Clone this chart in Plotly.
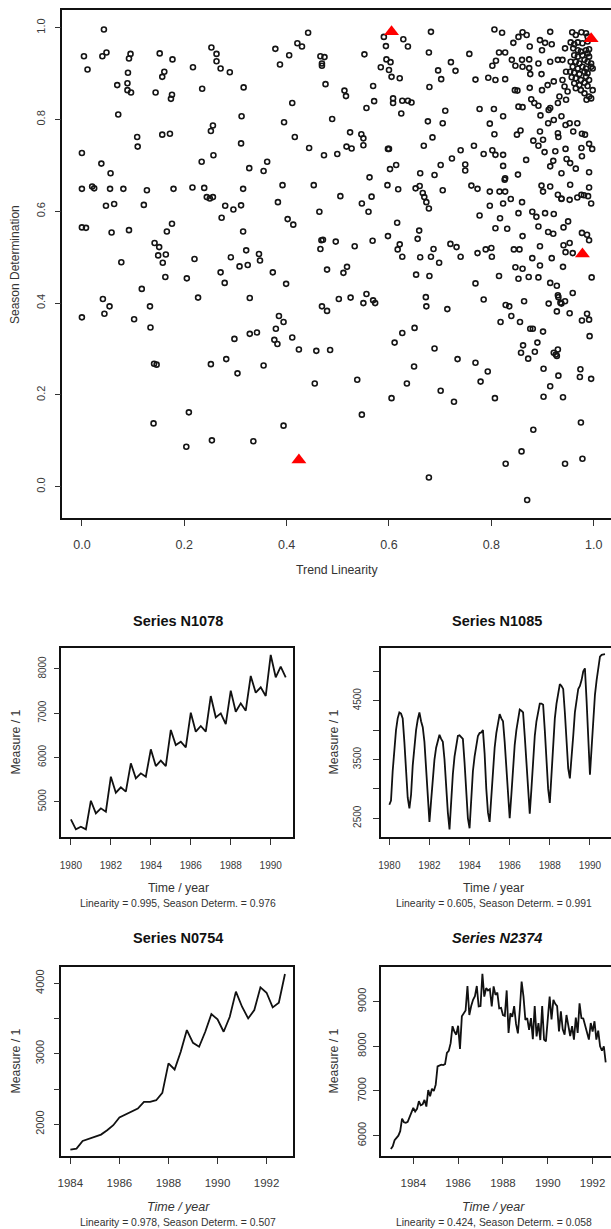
import numpy as np
import plotly.graph_objects as go

W, H = 611, 1229
FONT = "Liberation Sans, Arial, Helvetica, sans-serif"

# ---------------- scatter data ----------------
trend_linearity = [
 .043,.442,.590,.682,.806,.821,.861,.869,.853,.843,
 .915,.628,.637,.594,.253,.378,.421,.430,.875,.895,
 .905,.918,.899,.944,.004,.040,.048,.095,.092,.152,
 .177,.263,.263,.405,.466,.474,.552,.678,.757,.815,
 .827,.840,.860,.874,.892,.011,.090,.161,.157,.217,
 .271,.289,.387,.469,.469,.584,.595,.603,.600,.605,
 .621,.696,.721,.730,.702,.769,.794,.808,.827,.802,
 .809,.847,.861,.874,.876,.898,.915,.930,.069,.089,
 .089,.096,.144,.176,.174,.235,.316,.476,.513,.516,
 .569,.679,.846,.851,.875,.899,.910,.922,.608,.608,
 .626,.637,.644,.571,.556,.411,.710,.777,.805,.853,
 .861,.878,.884,.892,.915,.930,.071,.312,.489,.624,
 .676,.705,.797,.823,.896,.912,.922,.937,.945,.953,
 .968,.108,.157,.172,.252,.256,.395,.416,.524,.546,
 .550,.685,.806,.850,.857,.882,.895,.901,.911,.930,
 .931,.960,.977,.983,.000,.109,.311,.257,.444,.473,
 .499,.517,.527,.550,.598,.600,.668,.723,.740,.766,
 .785,.802,.808,.823,.892,.904,.925,.945,.976,.991,
 .997,.038,.056,.234,.327,.355,.362,.602,.614,.661,
 .689,.701,.749,.749,.823,.827,.852,.868,.915,.921,
 .937,.947,.954,.965,.977,.991,.000,.020,.024,.055,
 .081,.127,.179,.216,.239,.244,.250,.256,.315,.392,
 .453,.505,.562,.597,.618,.652,.660,.666,.669,.673,
 .678,.705,.761,.773,.797,.816,.826,.827,.860,.898,
 .901,.915,.930,.937,.954,.968,.981,.991,.989,.047,
 .063,.121,.280,.296,.311,.383,.464,.547,.560,.566,
 .797,.823,.838,.853,.880,.888,.905,.922,.937,.953,
 .976,.995,.000,.008,.058,.092,.176,.166,.273,.315,
 .402,.413,.616,.659,.777,.817,.808,.831,.892,.911,
 .921,.941,.950,.861,.142,.151,.149,.164,.077,.158,
 .220,.291,.321,.346,.348,.308,.324,.468,.471,.466,
 .496,.533,.568,.598,.621,.617,.626,.656,.661,.682,
 .687,.698,.720,.732,.740,.773,.789,.800,.801,.844,
 .855,.880,.895,.918,.941,.945,.953,.959,.977,.987,
 .991,.117,.163,.205,.271,.279,.373,.399,.479,.511,
 .518,.653,.679,.769,.815,.847,.861,.853,.873,.892,
 .895,.915,.928,.940,.996,.959,.930,.556,.502,.525,
 .672,.785,.227,.328,.041,
 .000,.044,.054,.102,.133,.134,.141,.146,.140,.209,
 .204,.252,.254,.282,.298,.304,.328,.342,.335,.355,
 .376,.379,.382,.385,.394,.394,.411,.424,.458,.455,
 .469,.479,.485,.538,.547,.550,.569,.573,.605,.611,
 .626,.635,.649,.650,.673,.678,.689,.701,.714,.727,
 .734,.769,.779,.793,.807,.818,.828,.828,.835,.839,
 .856,.858,.862,.864,.870,.872,.876,.881,.882,.859,
 .885,.890,.901,.902,.902,.912,.915,.922,.926,.928,
 .928,.930,.931,.931,.935,.937,.940,.944,.944,.953,
 .973,.974,.975,.977,.978,.987,.991,.992,.995,
 .958,.965,.976,.985,.988,.955,.962,.969,.978,.988,
 .960,.969,.975,.985,.991,.962,.969,.978,.988,.991,
 .955,.965,.972,.982,.988,.995,.959,.969,.978,.985,
 .995,.954,.962,.972,.982,.988,.998,.957,.965,.975,
 .985,.991,.962,.972,.982,.988,.998,.965,.975,.982,
 .991,.995,.986,.939,.946,.939,.943,.949,.946,.933,
]
season_determination = [
 .996,.989,.980,.991,.996,.989,.990,.984,.980,.967,
 .991,.975,.959,.960,.957,.954,.966,.959,.959,.973,
 .967,.964,.951,.955,.938,.938,.946,.943,.933,.944,
 .931,.943,.927,.940,.938,.936,.942,.946,.943,.946,
 .946,.930,.930,.931,.922,.909,.902,.904,.893,.914,
 .911,.903,.920,.922,.917,.914,.931,.925,.908,.893,
 .890,.907,.925,.906,.888,.887,.891,.886,.888,.917,
 .928,.917,.915,.912,.899,.899,.926,.930,.875,.879,
 .864,.859,.859,.854,.845,.867,.870,.877,.863,.851,
 .873,.871,.864,.863,.869,.864,.875,.883,.846,.836,
 .841,.841,.837,.840,.825,.836,.819,.823,.823,.828,
 .827,.844,.836,.830,.825,.836,.811,.807,.801,.813,
 .796,.792,.791,.807,.809,.821,.799,.807,.788,.792,
 .792,.762,.767,.769,.775,.787,.794,.762,.772,.768,
 .759,.761,.768,.767,.776,.754,.774,.756,.792,.770,
 .762,.774,.769,.767,.727,.741,.748,.722,.738,.722,
 .725,.741,.737,.744,.736,.736,.743,.715,.733,.743,
 .725,.733,.723,.723,.743,.729,.731,.736,.738,.747,
 .736,.704,.683,.708,.694,.688,.708,.692,.701,.683,
 .679,.701,.702,.689,.699,.672,.680,.712,.698,.710,
 .683,.714,.705,.693,.720,.685,.649,.654,.650,.649,
 .649,.646,.649,.652,.651,.631,.628,.631,.649,.657,
 .657,.633,.674,.657,.648,.650,.655,.640,.631,.620,
 .606,.646,.656,.649,.643,.643,.669,.643,.620,.656,
 .643,.654,.636,.628,.658,.630,.635,.652,.633,.612,
 .616,.614,.612,.604,.613,.620,.599,.617,.599,.632,
 .612,.617,.627,.596,.599,.588,.596,.594,.627,.625,
 .636,.617,.565,.564,.554,.559,.573,.556,.586,.556,
 .583,.571,.575,.558,.591,.585,.563,.562,.567,.555,
 .551,.565,.578,.546,.531,.522,.504,.506,.489,.488,
 .496,.500,.515,.507,.493,.480,.483,.537,.538,.518,
 .534,.524,.536,.546,.528,.517,.501,.540,.500,.501,
 .518,.488,.529,.522,.501,.509,.517,.520,.501,.517,
 .517,.498,.524,.498,.526,.511,.531,.509,.553,.549,
 .537,.431,.457,.454,.467,.444,.467,.442,.473,.466,
 .479,.462,.459,.443,.459,.478,.475,.453,.457,.456,
 .482,.444,.438,.479,.456,.422,.417,.420,.409,.412,
 .413,.408,.412,.411,.409,
 .369,.377,.393,.365,.393,.347,.268,.266,.138,.162,
 .087,.267,.101,.278,.322,.247,.333,.336,.099,.264,
 .320,.344,.311,.372,.359,.133,.325,.299,.296,.225,
 .393,.383,.298,.233,.157,.400,.406,.400,.193,.314,
 .335,.225,.262,.346,.393,.020,.301,.209,.387,.185,
 .278,.270,.229,.251,.193,.359,.050,.396,.393,.372,
 .359,.292,.308,.404,-.029,.279,.344,.344,.124,.077,
 .294,.314,.338,.257,.196,.399,.219,.292,.288,.382,
 .285,.299,.413,.242,.401,.399,.195,.050,.404,.378,
 .239,.256,.140,.362,.061,.377,.364,.328,.235,
 .990,.984,.990,.988,.981,.968,.964,.968,.966,.970,
 .955,.951,.948,.951,.953,.940,.937,.940,.944,.937,
 .926,.926,.922,.930,.926,.922,.915,.911,.915,.911,
 .915,.904,.902,.899,.904,.901,.911,.892,.890,.886,
 .893,.886,.879,.875,.880,.873,.864,.868,.864,.857,
 .850,.846,.843,.930,.904,.886,.872,.861,.843,.850,
]
assert len(trend_linearity) == len(season_determination)

highlight_series = ["N1078", "N1085", "N0754", "N2374"]
highlight_linearity = [0.995, 0.605, 0.978, 0.424]
highlight_season = [0.976, 0.991, 0.507, 0.058]

# ---------------- time series data ----------------
n1078_start, n1078_freq = 1980.0, 4
n1078 = [4600, 4374, 4434, 4374, 5022, 4736, 4849, 4774,
         5565, 5203, 5324, 5226, 5867, 5527, 5641, 5565,
         6183, 5806, 5927, 5806, 6621, 6281, 6357, 6229,
         7012, 6583, 6711, 6583, 7389, 6907, 6997, 6756,
         7510, 7035, 7224, 7058, 7842, 7465, 7585, 7389,
         8317, 7812, 8053, 7812]

n1085_start, n1085_freq = 1980.0, 12
n1085 = [2730, 2800, 3300, 3700, 4000, 4200, 4300, 4280, 4200, 3800, 3300, 2850,
         2670, 2900, 3400, 3750, 4000, 4180, 4300, 4150, 4050, 3800, 3300, 2800,
         2440, 2800, 3200, 3500, 3700, 3800, 3920, 3850, 3800, 3500, 3000, 2600,
         2310, 2800, 3250, 3550, 3750, 3900, 3910, 3880, 3850, 3450, 2950, 2500,
         2330, 2800, 3300, 3550, 3750, 3900, 3950, 3960, 4000, 3600, 3000, 2600,
         2440, 2850, 3350, 3700, 3950, 4150, 4270, 4200, 4150, 3800, 3300, 2850,
         2500, 2900, 3400, 3750, 4000, 4200, 4350, 4330, 4300, 3900, 3400, 2900,
         2580, 3000, 3500, 3900, 4150, 4300, 4450, 4450, 4430, 4000, 3500, 3000,
         2760, 3300, 3800, 4200, 4450, 4650, 4780, 4750, 4700, 4300, 3800, 3350,
         3180, 3500, 3900, 4300, 4550, 4700, 4750, 4850, 5000, 5050, 4500, 3800,
         3240, 3700, 4200, 4600, 4850, 5100, 5250, 5280, 5290, 5290]

n0754_start, n0754_freq = 1984.0, 4
n0754 = [1640, 1654, 1763, 1796, 1820, 1853, 1915, 1986,
         2095, 2138, 2171, 2223, 2318, 2318, 2341, 2446,
         2863, 2777, 3028, 3337, 3156, 3100, 3313, 3564,
         3488, 3313, 3526, 3882, 3668, 3502, 3621, 3943,
         3867, 3659, 3725, 4133]

n2374_start, n2374_freq = 1983.0, 12
n2374 = [5700, 5760, 5900, 5960, 6000, 6100, 6380, 6300, 6290, 6310, 6420, 6500,
         6620, 6540, 6600, 6770, 6680, 6700, 6800, 6650, 7020, 6880, 7050, 7000,
         7140, 7550, 7570, 7590, 7580, 7600, 7850, 7900, 8070, 8450, 8330, 8260,
         8460, 7940, 8670, 8740, 8800, 9350, 8700, 8900, 9040, 9120, 9350, 8890,
         8900, 9620, 9110, 9300, 9250, 9280, 8890, 9340, 9150, 9200, 8850, 8860,
         8700, 8680, 9250, 8300, 8740, 8660, 8900, 8500, 8290, 8800, 9450, 9110,
         8590, 8630, 8370, 8630, 8160, 8900, 8220, 8520, 8140, 8900, 8150, 8110,
         8650, 9110, 8600, 9040, 8950, 8900, 8330, 8780, 8380, 8260, 8700, 8460,
         8230, 8450, 8150, 8640, 8300, 8960, 8630, 8620, 8460, 8350, 8150, 8520,
         8330, 8560, 8150, 8350, 8000, 7900, 8000, 7640]

captions = ["Linearity = 0.995, Season Determ. = 0.976",
            "Linearity = 0.605, Season Determ. = 0.991",
            "Linearity = 0.978, Season Determ. = 0.507",
            "Linearity = 0.424, Season Determ. = 0.058"]


def times(start, freq, vals):
    return start + np.arange(len(vals)) / freq


def dx(px):
    return px / W


def dy(py):
    return 1 - py / H


fig = go.Figure()

fig.add_trace(go.Scatter(x=trend_linearity, y=season_determination, mode="markers",
                         marker=dict(symbol="circle-open", size=5, color="#151515",
                                     line=dict(width=1.6, color="#151515")),
                         xaxis="x", yaxis="y", showlegend=False, hoverinfo="skip"))
fig.add_trace(go.Scatter(x=highlight_linearity, y=highlight_season, mode="markers",
                         text=highlight_series,
                         marker=dict(symbol="triangle-up", size=13, color="#ff0000",
                                     line=dict(width=0)),
                         xaxis="x", yaxis="y", showlegend=False, hoverinfo="text"))

series = [(n1078_start, n1078_freq, n1078, "x2", "y2"),
          (n1085_start, n1085_freq, n1085, "x3", "y3"),
          (n0754_start, n0754_freq, n0754, "x4", "y4"),
          (n2374_start, n2374_freq, n2374, "x5", "y5")]
for st, fq, vals, xa, ya in series:
    fig.add_trace(go.Scatter(x=times(st, fq, vals), y=vals, mode="lines",
                             line=dict(color="#111111", width=1.8),
                             xaxis=xa, yaxis=ya, showlegend=False, hoverinfo="skip"))


def axis(anchor, domain, rng, tickvals, ticktext, mirror, size, standoff, angle=0):
    return dict(anchor=anchor, domain=domain, range=rng, tickmode="array",
                tickvals=tickvals, ticktext=ticktext, showline=True,
                linecolor="#111111", linewidth=1.5, mirror=mirror, ticks="outside",
                ticklen=6, tickwidth=1.2, tickcolor="#333333", showgrid=False,
                zeroline=False, tickfont=dict(family=FONT, size=size, color="#3a3a3a"),
                ticklabelstandoff=standoff, tickangle=angle, fixedrange=True,
                automargin=False)


sc_ticks = [0.0, 0.2, 0.4, 0.6, 0.8, 1.0]
sc_text = ["%.1f" % v for v in sc_ticks]
yr1 = [1980, 1982, 1984, 1986, 1988, 1990]
yr2 = [1984, 1986, 1988, 1990, 1992]

top_y = [dy(837.3), dy(647.7)]
bot_y = [dy(1156.3), dy(966.7)]
left_x = [dx(61.3), dx(293.3)]
right_x = [dx(381), 1.0]

layout = dict(
    width=W, height=H, margin=dict(l=0, r=0, t=0, b=0),
    paper_bgcolor="white", plot_bgcolor="white", showlegend=False,
    xaxis=axis("y", [dx(62.3), 1.0], [-0.0383, 1.0338], sc_ticks, sc_text, True, 12.5, 8),
    yaxis=axis("x", [dy(518.3), dy(10)], [-0.0688, 1.0386], sc_ticks, sc_text, False, 11, 5, -90),
    xaxis2=axis("y2", left_x, [1979.52, 1991.13], yr1, [str(v) for v in yr1], True, 10, 12),
    yaxis2=axis("x2", top_y, [4195, 8481], [5000, 6000, 7000, 8000],
                ["5000", "6000", "7000", "8000"], True, 10, 4, -90),
    xaxis3=axis("y3", right_x, [1979.585, 1991.05], yr1, [str(v) for v in yr1], True, 10, 12),
    yaxis3=axis("x3", top_y, [2177, 5401], [2500, 3000, 3500, 4000, 4500, 5000],
                ["2500", "", "3500", "", "4500", ""], False, 10, 8, -90),
    xaxis4=axis("y4", left_x, [1983.63, 1993.09], yr2, [str(v) for v in yr2], True, 11.5, 9),
    yaxis4=axis("x4", bot_y, [1545, 4236], [2000, 2500, 3000, 3500, 4000],
                ["2000", "", "3000", "", "4000"], True, 11, 5, -90),
    xaxis5=axis("y5", right_x, [1982.56, 1992.82], yr2, [str(v) for v in yr2], True, 11.5, 9),
    yaxis5=axis("x5", bot_y, [5538, 9781], [6000, 7000, 8000, 9000],
                ["6000", "7000", "8000", "9000"], False, 11, 3, -90),
)
fig.update_layout(**layout)


def ann(text, px, py, size, color="#333333", angle=0):
    fig.add_annotation(text=text, x=dx(px), y=dy(py), xref="paper", yref="paper",
                       showarrow=False, xanchor="center", yanchor="middle",
                       textangle=angle, font=dict(family=FONT, size=size, color=color))


ann("Trend Linearity", 337, 570, 12.3)
ann("Season Determination", 15, 265, 12, angle=-90)

titles = [("<b>Series N1078</b>", 178, 620.7), ("<b>Series N1085</b>", 496.7, 620.7),
          ("<b>Series N0754</b>", 178, 938.3), ("<b><i>Series N2374</i></b>", 496.7, 938.3)]
for t, px, py in titles:
    ann(t, px, py, 14.5, color="#111111")

for px, py in [(15, 742.5), (333, 742.5), (15, 1061.5), (333, 1061.5)]:
    ann("Measure / 1", px, py, 12.3, angle=-90)

ann("Time / year", 178, 888.3, 12.3)
ann("Time / year", 494, 888.3, 12.3)
ann("<i>Time / year</i>", 178, 1207.3, 12.5)
ann("<i>Time / year</i>", 494, 1207.3, 12.5)

ann(captions[0], 178, 903.3, 10.4)
ann(captions[1], 494, 903.3, 10.4)
ann(captions[2], 178, 1222.7, 10.4)
ann(captions[3], 494, 1222.7, 10.4)

fig.write_html("out.html", config={"displayModeBar": False},
               post_script="document.body.style.margin='0';")
